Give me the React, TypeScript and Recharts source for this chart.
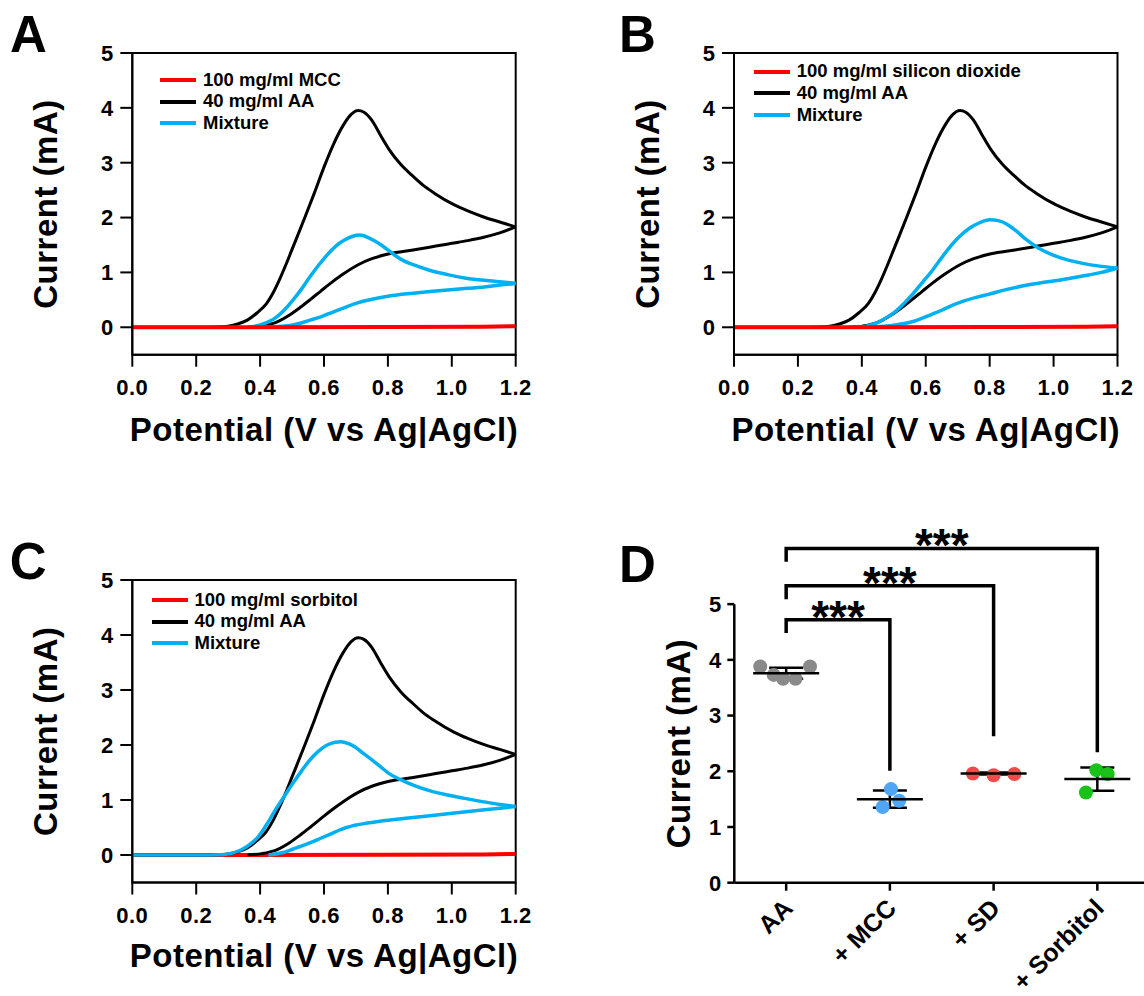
// four-panel figure: three CV overlays + peak current comparison

import {
  ComposedChart, ErrorBar, Legend, Line, LineChart, ReferenceArea,
  ReferenceDot, ReferenceLine, Scatter, XAxis, YAxis,
} from "recharts";

const FONT = '"Liberation Sans", Arial, sans-serif';

type Pt = [number, number]; // [potential V, current mA]

// 40 mg/ml AA, same trace in A, B and C
const aaUpper: Pt[] = [
  [0, 0], [0.2, 0], [0.27, 0.005], [0.3, 0.02], [0.33, 0.06], [0.36, 0.13], [0.39, 0.26],
  [0.42, 0.43], [0.44, 0.62], [0.46, 0.86], [0.48, 1.13], [0.5, 1.42], [0.54, 2.0],
  [0.57, 2.45], [0.6, 2.92], [0.63, 3.34], [0.66, 3.68], [0.685, 3.88], [0.707, 3.95],
  [0.725, 3.92], [0.75, 3.77], [0.775, 3.52], [0.804, 3.24], [0.84, 2.97], [0.879, 2.75],
  [0.91, 2.59], [0.944, 2.45], [1.008, 2.23], [1.05, 2.12], [1.095, 2.02], [1.15, 1.92], [1.2, 1.83],
];
const aaLower: Pt[] = [
  [0.36, 0], [0.405, 0.025], [0.448, 0.085], [0.491, 0.22], [0.525, 0.36], [0.556, 0.5],
  [0.59, 0.66], [0.62, 0.8], [0.66, 0.97], [0.707, 1.14], [0.75, 1.25], [0.804, 1.34],
  [0.879, 1.41], [0.95, 1.48], [1.0, 1.53], [1.05, 1.58], [1.1, 1.64], [1.15, 1.72], [1.2, 1.83],
];

// 100 mg/ml excipient alone (flat)
const excipientTrace: Pt[] = [[0, 0], [0.4, 0], [0.8, 0.004], [1.1, 0.01], [1.2, 0.02]];

// mixtures
const mixMccUpper: Pt[] = [
  [0.36, 0], [0.405, 0.05], [0.448, 0.17], [0.475, 0.31], [0.502, 0.49], [0.53, 0.7],
  [0.556, 0.92], [0.583, 1.13], [0.61, 1.32], [0.637, 1.48], [0.664, 1.59], [0.69, 1.66],
  [0.712, 1.68], [0.74, 1.63], [0.771, 1.53], [0.8, 1.41], [0.825, 1.3], [0.85, 1.21],
  [0.879, 1.14], [0.93, 1.04], [0.987, 0.96], [1.04, 0.9], [1.095, 0.86], [1.15, 0.83], [1.2, 0.8],
];
const mixMccLower: Pt[] = [
  [0.4, 0], [0.448, 0.01], [0.502, 0.04], [0.556, 0.13], [0.59, 0.19], [0.62, 0.26],
  [0.66, 0.35], [0.707, 0.45], [0.75, 0.51], [0.804, 0.57], [0.879, 0.62], [0.95, 0.66],
  [0.987, 0.68], [1.05, 0.71], [1.095, 0.73], [1.15, 0.77], [1.2, 0.8],
];
const mixSdUpper: Pt[] = [
  [0.38, 0], [0.42, 0.03], [0.45, 0.09], [0.475, 0.17], [0.504, 0.28], [0.533, 0.44],
  [0.563, 0.63], [0.59, 0.82], [0.621, 1.04], [0.65, 1.27], [0.679, 1.49], [0.708, 1.67],
  [0.738, 1.81], [0.77, 1.91], [0.8, 1.96], [0.83, 1.94], [0.854, 1.88], [0.88, 1.77],
  [0.912, 1.61], [0.94, 1.49], [0.97, 1.39], [1.02, 1.27], [1.087, 1.17], [1.15, 1.11], [1.2, 1.08],
];
const mixSdLower: Pt[] = [
  [0.42, 0], [0.504, 0.04], [0.563, 0.11], [0.621, 0.24], [0.65, 0.31], [0.679, 0.39],
  [0.72, 0.48], [0.76, 0.55], [0.796, 0.6], [0.854, 0.69], [0.91, 0.76], [0.97, 0.82],
  [1.03, 0.87], [1.087, 0.93], [1.15, 1.0], [1.2, 1.08],
];
const mixSorbUpper: Pt[] = [
  [0, 0], [0.2, 0], [0.275, 0.005], [0.31, 0.03], [0.34, 0.09], [0.367, 0.19], [0.394, 0.33],
  [0.42, 0.55], [0.448, 0.82], [0.475, 1.06], [0.502, 1.3], [0.53, 1.53], [0.556, 1.73],
  [0.583, 1.89], [0.61, 2.0], [0.635, 2.05], [0.653, 2.06], [0.675, 2.03], [0.696, 1.97],
  [0.72, 1.86], [0.75, 1.73], [0.78, 1.59], [0.804, 1.48], [0.84, 1.37], [0.879, 1.27],
  [0.93, 1.17], [0.987, 1.09], [1.04, 1.03], [1.095, 0.97], [1.15, 0.92], [1.2, 0.88],
];
const mixSorbLower: Pt[] = [
  [0.426, 0], [0.469, 0.04], [0.5, 0.1], [0.523, 0.15], [0.555, 0.22], [0.588, 0.3],
  [0.62, 0.38], [0.647, 0.45], [0.67, 0.5], [0.696, 0.54], [0.771, 0.61], [0.879, 0.68],
  [0.987, 0.75], [1.095, 0.82], [1.2, 0.88],
];

const potentialTicks = [0, 0.2, 0.4, 0.6, 0.8, 1.0, 1.2];
const currentTicks = [0, 1, 2, 3, 4, 5];

// panel D
const groups = ["AA", "+ MCC", "+ SD", "+ Sorbitol"];
const groupColors = ["#8a8a8a", "#4ea6f5", "#f24a4a", "#18c218"];
const peakAA = [3.88, 3.88, 3.66, 3.66, 3.73];
const peakMCC = [1.68, 1.47, 1.36];
const peakSD = [1.96, 1.93, 1.95];
const peakSorb = [2.02, 1.95, 1.62];
const jitterAA = [-0.25, 0.23, -0.03, 0.09, -0.12];
const jitterMCC = [0.01, 0.09, -0.07];
const jitterSD = [-0.2, 0, 0.2];
const jitterSorb = [-0.01, 0.1, -0.11];
const groupMeans = [3.76, 1.5, 1.96, 1.86];
const groupSDs = [0.1, 0.155, 0.02, 0.21];
// significance brackets AA vs each group
const bracketTo = [1, 2, 3];
const bracketTop = [4.72, 5.33, 6.0];
const bracketLeftEnd = [4.48, 5.09, 5.76];
const bracketRightEnd = [2.01, 2.63, 2.34];

const pts = (a: Pt[]) => a.map(([x, y]) => ({ x, y }));

const RED = "#ff0000";
const BLUE = "#00b0f0";

function YTitle({ tx, ty, text }: any) {
  return (
    <text x={tx} y={ty} transform={`rotate(-90, ${tx}, ${ty})`} textAnchor="middle"
      fontFamily={FONT} fontWeight={700} fontSize={33} letterSpacing={0.5} fill="#000">
      {text}
    </text>
  );
}

function XTitle({ tx, ty, text }: any) {
  return (
    <text x={tx} y={ty} textAnchor="middle" fontFamily={FONT} fontWeight={700}
      fontSize={33} letterSpacing={0.5} fill="#000">
      {text}
    </text>
  );
}

function CvLegend({ items }: { items: { name: string; color: string }[] }) {
  return (
    <div style={{ fontFamily: FONT, fontWeight: 700, fontSize: 18.5, color: "#000" }}>
      {items.map((it) => (
        <div key={it.name} style={{ display: "flex", alignItems: "center", height: 21.7 }}>
          <div style={{ width: 36, height: 4, background: it.color, marginRight: 7 }} />
          <span style={{ lineHeight: 1, whiteSpace: "nowrap" }}>{it.name}</span>
        </div>
      ))}
    </div>
  );
}

function PanelLetter({ left, top, ch }: { left: number; top: number; ch: string }) {
  return (
    <div style={{
      position: "absolute", left, top, fontFamily: FONT, fontWeight: 700,
      fontSize: 51, lineHeight: "51px", color: "#000",
    }}>{ch}</div>
  );
}

function CvPanel(p: any) {
  const tickStyle = { fontSize: 22, fontWeight: 700, fill: "#000", fontFamily: FONT };
  const stroke = { stroke: "#000", strokeWidth: 2 };
  const red = (
    <Line key="red" data={pts(excipientTrace)} dataKey="y" type="linear" stroke={RED}
      strokeWidth={4} dot={false} isAnimationActive={false} />
  );
  const rest = [
    <Line key="aaU" data={pts(aaUpper)} dataKey="y" type="monotone" stroke="#000"
      strokeWidth={3} dot={false} isAnimationActive={false} />,
    <Line key="aaL" data={pts(aaLower)} dataKey="y" type="monotone" stroke="#000"
      strokeWidth={3} dot={false} isAnimationActive={false} />,
    <Line key="mixU" data={pts(p.mixUpper)} dataKey="y" type="monotone" stroke={BLUE}
      strokeWidth={3.5} dot={false} isAnimationActive={false} />,
    <Line key="mixL" data={pts(p.mixLower)} dataKey="y" type="monotone" stroke={BLUE}
      strokeWidth={3.5} dot={false} isAnimationActive={false} />,
  ];
  const items = [
    { name: p.excipient, color: RED },
    { name: "40 mg/ml AA", color: "#000" },
    { name: "Mixture", color: BLUE },
  ];
  return (
    <LineChart width={p.width} height={p.height} margin={p.margin}>
      <XAxis type="number" dataKey="x" domain={[0, 1.2]} ticks={potentialTicks} interval={0}
        tickFormatter={(v: number) => v.toFixed(1)} height={63} tickSize={12} tickMargin={13}
        tick={{ ...tickStyle, letterSpacing: 0.5 }} axisLine={stroke} tickLine={stroke}
        label={<XTitle tx={p.xTitleX} ty={p.xTitleY} text="Potential (V vs Ag|AgCl)" />} />
      <YAxis type="number" dataKey="y" domain={[-0.5, 5]} ticks={currentTicks} interval={0}
        width={p.yAxisWidth} tickSize={12} tickMargin={7} tick={tickStyle}
        axisLine={stroke} tickLine={stroke}
        label={<YTitle tx={p.yTitleX} ty={p.yTitleY} text="Current (mA)" />} />
      <ReferenceArea x1={0} x2={1.2} y1={-0.5} y2={5} fill="none" fillOpacity={0}
        stroke="#000" strokeWidth={2} />
      {p.redOnTop ? [...rest, red] : [red, ...rest]}
      <Legend layout="horizontal" verticalAlign="middle" align="center"
        wrapperStyle={{ left: p.legendLeft, top: p.legendTop, width: "auto" }}
        content={() => <CvLegend items={items} />} />
    </LineChart>
  );
}

function GroupTick({ x, y, payload }: any) {
  const ox = x + 8;
  const oy = y + 17;
  return (
    <text x={ox} y={oy} transform={`rotate(-45, ${ox}, ${oy})`} textAnchor="end"
      fontFamily={FONT} fontWeight={700} fontSize={25} fill="#000">
      {groups[payload.value]}
    </text>
  );
}

function PeakPanel() {
  const peaks = [peakAA, peakMCC, peakSD, peakSorb];
  const jitters = [jitterAA, jitterMCC, jitterSD, jitterSorb];
  const summary = groupMeans.map((m, i) => ({ x: i, y: m, sd: groupSDs[i] }));
  const stroke = { stroke: "#000", strokeWidth: 2.5 };
  return (
    <ComposedChart width={584} height={496} margin={{ top: 15, right: 0, bottom: 0, left: 0 }}>
      <XAxis type="number" dataKey="x" domain={[-0.5, 3.45]} ticks={[0, 1, 2, 3]} interval={0}
        height={113.3} tickSize={8} axisLine={stroke} tickLine={stroke} tick={<GroupTick />} />
      <YAxis type="number" dataKey="y" domain={[0, 6.6]} ticks={currentTicks} interval={0}
        width={174.3} axisLine={false} tickSize={7} tickMargin={6} tickLine={stroke}
        tick={{ fontSize: 22, fontWeight: 700, fill: "#000", fontFamily: FONT }}
        label={<YTitle tx={130.3} ty={243.5} text="Current (mA)" />} />
      <ReferenceLine segment={[{ x: -0.5, y: 0 }, { x: -0.5, y: 5 }]} stroke="#000" strokeWidth={2.5} />
      {peaks.map((vals, g) => (
        <Scatter key={groups[g]} data={vals.map((v, k) => ({ x: g + jitters[g][k], y: v }))}
          fill={groupColors[g]} isAnimationActive={false}
          shape={(s: any) => <circle cx={s.cx} cy={s.cy} r={7} fill={groupColors[g]} />} />
      ))}
      <Scatter data={summary} isAnimationActive={false}
        shape={(s: any) => (
          <line x1={s.cx - 33} x2={s.cx + 33} y1={s.cy} y2={s.cy} stroke="#000" strokeWidth={2.5} />
        )}>
        <ErrorBar dataKey="sd" direction="y" width={17} stroke="#000" strokeWidth={2.5} />
      </Scatter>
      {bracketTo.map((to, i) => (
        <Line key={`br${i}`} type="linear" dataKey="y" stroke="#000" strokeWidth={3.5}
          strokeLinejoin="miter" dot={false} isAnimationActive={false}
          data={[
            { x: 0, y: bracketLeftEnd[i] }, { x: 0, y: bracketTop[i] },
            { x: to, y: bracketTop[i] }, { x: to, y: bracketRightEnd[i] },
          ]} />
      ))}
      {bracketTo.map((to, i) => (
        <ReferenceDot key={`st${i}`} x={to / 2} y={bracketTop[i]} r={0} stroke="none"
          label={{
            value: "***", position: "top", offset: -12.8, fontSize: 46, fontWeight: 700,
            fill: "#000", fontFamily: FONT,
          }} />
      ))}
    </ComposedChart>
  );
}

export default function App() {
  return (
    <div style={{ position: "absolute", left: 0, top: 0, width: 1144, height: 996, background: "#fff" }}>
      <div style={{ position: "absolute", left: 0, top: 0 }}>
        <CvPanel width={540} height={460} margin={{ top: 53, right: 24.3, bottom: 42.3, left: 0 }}
          yAxisWidth={132.3} yTitleX={56.8} yTitleY={204} xTitleX={324} xTitleY={440.5}
          legendLeft={160} legendTop={69.2} excipient="100 mg/ml MCC"
          mixUpper={mixMccUpper} mixLower={mixMccLower} redOnTop />
      </div>
      <div style={{ position: "absolute", left: 560, top: 0 }}>
        <CvPanel width={584} height={460} margin={{ top: 53, right: 26.5, bottom: 42.3, left: 0 }}
          yAxisWidth={174} yTitleX={98.5} yTitleY={204} xTitleX={365.75} xTitleY={440.5}
          legendLeft={193.7} legendTop={60.9} excipient="100 mg/ml silicon dioxide"
          mixUpper={mixSdUpper} mixLower={mixSdLower} redOnTop />
      </div>
      <div style={{ position: "absolute", left: 0, top: 540 }}>
        <CvPanel width={540} height={456} margin={{ top: 40, right: 24.3, bottom: 50.5, left: 0 }}
          yAxisWidth={132.3} yTitleX={56.8} yTitleY={191.3} xTitleX={324} xTitleY={426.7}
          legendLeft={151.5} legendTop={49.2} excipient="100 mg/ml sorbitol"
          mixUpper={mixSorbUpper} mixLower={mixSorbLower} redOnTop={false} />
      </div>
      <div style={{ position: "absolute", left: 560, top: 500 }}>
        <PeakPanel />
      </div>
      <PanelLetter left={10} top={8.5} ch="A" />
      <PanelLetter left={619} top={8.5} ch="B" />
      <PanelLetter left={9.7} top={536.3} ch="C" />
      <PanelLetter left={619} top={538.5} ch="D" />
    </div>
  );
}
